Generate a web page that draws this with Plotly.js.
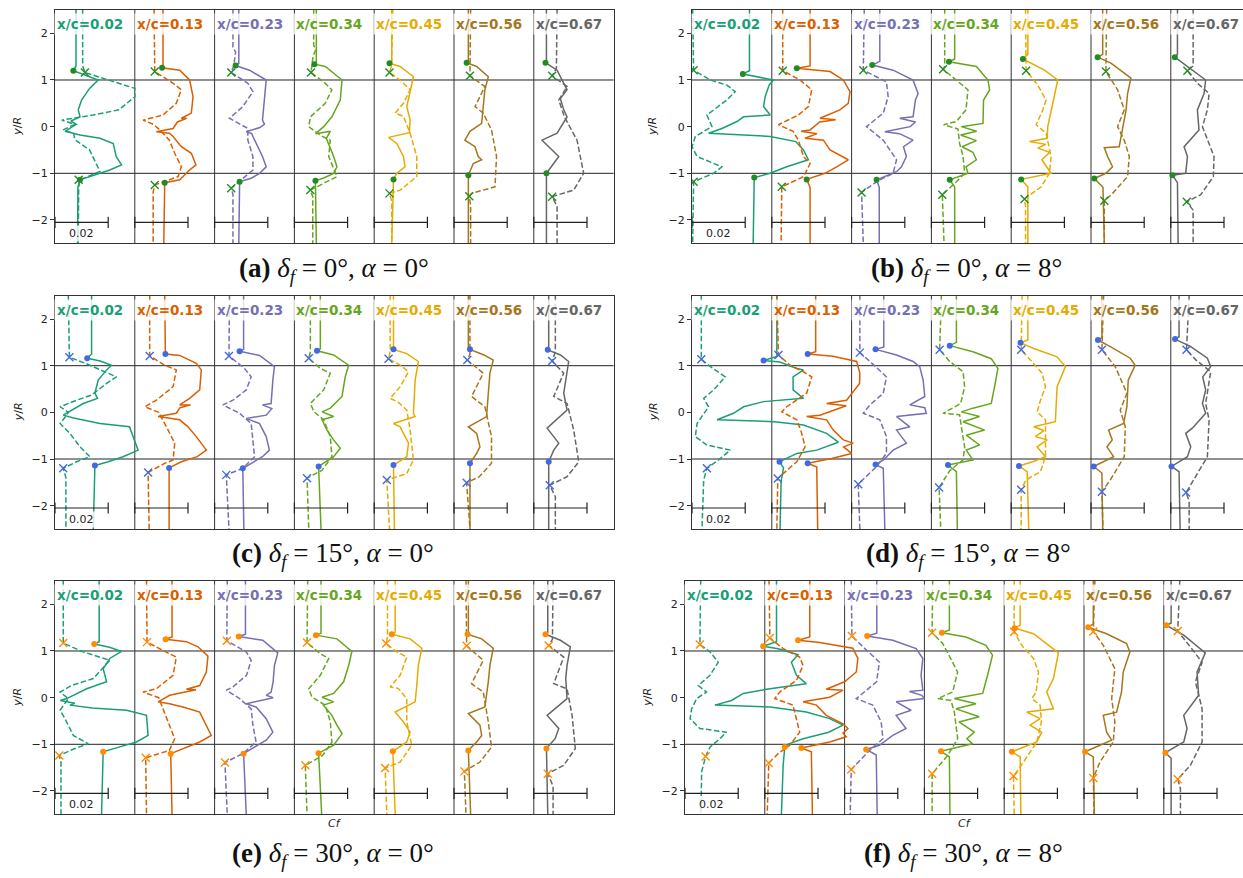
<!DOCTYPE html>
<html><head><meta charset="utf-8">
<script src="https://cdn.plot.ly/plotly-3.0.1.min.js"></script>
<style>html,body{margin:0;padding:0;background:#fff;}#chart{width:1243px;height:878px;}</style>
</head><body><div id="chart"></div>
<script>
// ---------------- DATA ----------------
// Chord stations and colours of each column
const STATIONS = ['0.02','0.13','0.23','0.34','0.45','0.56','0.67'];
const COLORS = ['#1b9e77','#d95f02','#7570b3','#66a61e','#e6ab02','#a6761d','#666666'];
const Y_TICKS = [-2,-1,0,1,2];
const SCALE_CF = 0.02;   // length of the reference bar (Cf units)
const COL_CF = 0.03;     // Cf width of one station column

// Each profile: flat list of (y/R, Cf*1000) pairs
const SOLID_A = [
 [2.5,7.9,1.3,7.9,1.2,6.9,1.0,16.25,0.82,13,0.57,10,0.36,8.75,0.21,9.4,0.12,6,0.05,8,-0.1,3.75,-0.18,9.4,-0.25,16.9,-0.36,21.9,-0.64,23,-0.82,25,-0.93,20.6,-1.0,16.9,-1.14,9.4,-1.3,8.6,-2.5,8.5],
 [2.5,10.6,1.3,10.6,1.26,10.25,1.21,16.9,1.0,20.6,0.64,21.9,0.29,21.25,0.18,17.5,0.18,19.5,0.1,16,-0.04,14.4,-0.11,8.1,-0.14,13,-0.21,14.4,-0.43,17.5,-0.57,21.25,-0.82,23,-0.93,20.6,-1.14,16.9,-1.2,11.25,-2.5,10.9],
 [2.5,9.1,1.35,9.1,1.31,7.9,1.21,13.1,1.0,19.4,0.57,18.75,0.14,18,0.05,18.75,-0.02,17,-0.11,11.9,-0.15,14,-0.21,14.4,-0.43,16.25,-0.64,18,-0.86,19.4,-1.0,16.9,-1.1,14,-1.18,9.4,-2.5,9.1],
 [2.5,8.25,1.4,8.25,1.34,7.5,1.29,11.6,1.0,17.9,0.57,17.25,0.21,14.1,0.0,11,-0.15,8,-0.1,13.5,-0.25,12,-0.64,14.75,-0.86,16,-1.0,14.75,-1.1,11,-1.16,7.9,-2.5,8.25],
 [2.5,6.6,1.4,6.6,1.36,5.75,1.29,9.75,1.07,14.75,0.71,13.5,0.43,12.25,0.14,13.5,-0.13,13.25,-0.23,5.4,-0.36,8.5,-0.64,11,-0.86,11.6,-1.0,8.5,-1.13,7.25,-2.5,6.6],
 [2.5,5.4,1.42,5.4,1.37,4.75,1.29,8.5,1.07,12.9,0.79,11.6,0.43,11,0.07,10.4,-0.1,6,-0.29,4.1,-0.43,7.9,-0.64,9.1,-0.71,10.4,-0.79,7.25,-1.04,5.4,-2.5,5.4],
 [2.5,4.75,1.42,4.75,1.37,4.4,1.21,8.75,0.79,12.5,0.6,10,0.36,11.25,0.21,12.5,-0.14,8.75,-0.29,3.1,-0.64,9.4,-0.79,7.5,-1.0,4.75,-2.5,4.75]
];
const DASH_A = [
 [2.5,10.4,1.3,10.4,1.16,11.25,0.82,30,0.64,30,0.36,24,0.25,14.4,0.21,10.6,0.14,2.5,0.05,7.5,-0.07,3,-0.15,7,-0.28,7.5,-0.5,13,-0.86,16,-0.96,16.9,-1.14,9.4,-1.3,8.9,-2.5,8.75],
 [2.5,7.25,1.25,7.25,1.18,7.5,0.93,14.4,0.79,17.5,0.5,15.6,0.25,10.6,0.14,3.1,0.05,7,-0.07,9.4,-0.29,13,-0.57,15,-0.86,17.5,-1.07,16.25,-1.25,7.5,-1.4,6.9,-2.5,6.9],
 [2.5,6.9,1.7,6.9,1.6,7.9,1.3,7.2,1.16,6.25,0.93,12.5,0.75,14.4,0.43,10.6,0.18,5.6,-0.04,12.5,-0.29,12.5,-0.64,14.4,-0.93,14.4,-1.18,9.4,-1.32,6.25,-1.45,6.9,-2.5,6.9],
 [2.5,7.25,1.75,7.25,1.65,8,1.5,7,1.16,6.25,0.96,11,0.79,14.1,0.5,11.6,0.21,6,0.0,5.4,-0.11,8,-0.21,10.5,-0.29,13.5,-0.64,12.9,-1.07,16,-1.18,12.25,-1.3,8,-1.36,6,-1.5,6.9,-2.5,6.9],
 [2.5,7,1.3,6.5,1.16,5.75,1.0,9.75,0.79,13.5,0.5,11,0.29,7.9,0.22,11,-0.14,13.5,-0.64,16,-1.07,16,-1.36,9.75,-1.43,5.75,-1.6,6.6,-2.5,6.6],
 [2.5,6.25,1.2,6.25,1.09,6,0.86,11.6,0.43,7.9,0.29,11,-0.07,14.1,-0.64,16,-1.29,15.4,-1.43,6.6,-1.49,5.75,-1.7,6.25,-2.5,6.25],
 [2.5,8.75,1.25,8.5,1.09,6.9,0.86,12.5,0.57,9.4,0.21,11.5,-0.29,16.25,-1.0,18.75,-1.36,15,-1.5,6.9,-1.71,8.75,-2.5,8.75]
];
const DOT_A = [[1.2,6.9,-1.14,9.4],[1.26,10.25,-1.2,11.25],[1.31,7.9,-1.18,9.4],[1.34,7.5,-1.16,7.9],[1.36,5.75,-1.13,7.25],[1.37,4.75,-1.04,5.4],[1.37,4.4,-1.0,4.75]];
const CROSS_A = [[1.16,11.25,-1.14,8.9],[1.18,7.5,-1.25,7.5],[1.16,6.25,-1.32,6.25],[1.16,6.25,-1.36,6],[1.16,5.75,-1.43,5.75],[1.09,6,-1.49,5.75],[1.09,6.9,-1.5,6.9]];

const SOLID_B = [
 [2.5,21.6,1.2,21.6,1.13,19.1,1.0,30.6,0.89,29,0.64,27.5,0.43,26.9,0.25,29.4,0.21,19.4,0.11,16.9,-0.04,11.25,-0.14,6.25,-0.21,29.4,-0.32,39,-0.5,41.9,-0.71,43.75,-0.86,35.6,-1.0,29.4,-1.09,23.4,-2.5,23],
 [2.5,14.4,1.3,14.4,1.25,9.4,1.18,21.9,1.0,26.9,0.75,29.4,0.5,28.75,0.36,25.6,0.18,18.1,0.15,24,0.1,18,-0.07,14.4,-0.1,11,-0.15,17,-0.25,12.5,-0.29,19.4,-0.5,21.9,-0.71,28.75,-0.86,24.4,-1.0,20,-1.13,13.1,-1.3,14.4,-2.5,14.4],
 [2.5,10.6,1.4,10.6,1.32,7.75,1.21,15.6,1.0,23.1,0.71,25,0.57,24,0.21,23.1,0.18,18.1,0.1,24,0.0,22,-0.11,12.5,-0.15,18,-0.29,23.1,-0.43,19.5,-0.64,20.6,-0.86,18.75,-0.96,17,-1.14,9.4,-1.3,10.4,-2.5,10.4],
 [2.5,8.75,1.45,8.75,1.39,6.6,1.29,16.9,1.0,21.25,0.79,21.9,0.57,19.6,0.07,19.4,0.0,11.25,-0.1,17,-0.18,11,-0.3,16.9,-0.43,11.5,-0.55,15.6,-0.71,16.9,-0.86,13,-1.0,13.75,-1.14,6.9,-1.29,8.75,-2.5,8.75],
 [2.5,6.25,1.55,6.25,1.45,4.4,1.36,7.5,1.21,12.5,1.0,17.5,0.57,16,0.0,13.75,-0.25,13.5,-0.32,6.9,-0.38,13,-0.46,10,-0.55,14.5,-0.71,11.5,-1.0,15,-1.07,9,-1.13,3.75,-1.29,6.25,-2.5,6.25],
 [2.5,4.4,1.55,4.4,1.49,2.5,1.36,7.5,1.04,15,0.71,13.75,0.36,13.2,0.0,11.9,-0.43,10.6,-0.45,5,-0.64,6.25,-0.86,8.1,-1.0,5.6,-1.11,1.25,-1.3,4.5,-2.5,5],
 [2.5,2.5,1.55,2.5,1.49,1.5,1.29,6.25,1.0,13.1,0.71,12.5,0.36,10,-0.07,10.6,-0.43,5,-0.64,6.25,-1.0,5.6,-1.04,0.6,-1.2,2.5,-2.5,2.75]
];
const DASH_B = [
 [2.5,0.25,1.21,0.6,1.0,6.9,0.89,13.1,0.75,16.25,0.57,13.1,0.25,5.6,0.0,7.5,-0.21,1.25,-0.43,0,-0.64,1.9,-0.86,11.25,-1.0,8.1,-1.18,0.6,-2.5,0.25],
 [2.5,4.1,1.2,4.1,1.0,10.6,0.79,15,0.43,13.75,0.25,10,0.04,2.5,-0.1,8,-0.29,10,-0.64,11.9,-0.79,14.4,-1.07,12,-1.29,3.75,-2.5,3.5],
 [2.5,4.75,1.21,4.4,0.96,13.1,0.64,13.75,0.29,11.9,0.0,5.6,-0.29,11.9,-0.5,14.4,-0.71,16.9,-1.0,15.6,-1.18,9.4,-1.41,3.75,-2.5,4.4],
 [2.5,5,1.3,5,1.23,4.4,1.0,9.4,0.79,13.75,0.36,13,0.11,9.4,0.04,4.6,-0.05,10,-0.36,10.6,-0.64,11.9,-1.0,12.5,-1.18,9.4,-1.46,4.1,-2.5,4.75],
 [2.5,5.4,1.2,5.6,0.89,10,0.57,13.1,0.36,11.9,0.04,9.4,-0.14,13.1,-0.64,15,-1.0,14.4,-1.29,11.25,-1.55,5,-1.7,5.4,-2.5,5.4],
 [2.5,5.9,1.18,5.6,0.79,10,0.36,12.5,0.0,10,-0.29,12.5,-0.64,14.4,-1.07,13.75,-1.43,8.1,-1.59,5,-2.5,5],
 [2.5,8.4,1.3,8.4,1.2,6.25,0.93,10,0.71,14.4,0.36,13.75,0.0,11.9,-0.64,16.25,-1.07,16,-1.46,11.25,-1.61,6,-1.79,8.4,-2.5,8.4]
];
const DOT_B = [[1.13,19.1,-1.09,23.4],[1.25,9.4,-1.13,13.1],[1.32,7.75,-1.14,9.4],[1.39,6.6,-1.14,6.9],[1.45,4.4,-1.13,3.75],[1.49,2.5,-1.11,1.25],[1.49,1.5,-1.04,0.6]];
const CROSS_B = [[1.21,0.6,-1.18,0.6],[1.2,4.1,-1.29,3.75],[1.21,4.4,-1.41,3.75],[1.23,4.4,-1.46,4.1],[1.2,5.6,-1.55,5],[1.18,5.6,-1.59,5],[1.2,6.25,-1.61,6]];

const SOLID_C = [
 [2.5,13.75,1.25,13.75,1.16,12.1,1.1,17,1.01,21.25,0.91,19.4,0.69,16.25,0.41,15,0.3,16,0.19,10.6,-0.06,3.1,-0.12,7,-0.24,16.9,-0.31,28,-0.81,31.25,-0.95,25.6,-1.06,20,-1.14,15,-2.5,14.4],
 [2.5,11.25,1.3,11.25,1.25,11.5,1.22,16.9,1.05,23.1,0.91,25,0.48,24.4,0.3,20.6,0.16,16.9,0.16,21,0.1,17,-0.02,15.6,-0.09,8.75,-0.16,16.9,-0.31,20,-0.52,23.1,-0.81,26.9,-0.95,23.5,-1.06,17.5,-1.19,12.9,-2.5,12.9],
 [2.5,10.9,1.35,10.9,1.31,9.4,1.22,16.9,0.98,22.5,0.69,21.9,0.19,21.25,0.16,18,0.08,21.5,-0.06,19.4,-0.13,11.9,-0.24,16.9,-0.52,19.4,-0.81,20.6,-0.95,18,-1.09,14,-1.2,10.6,-2.5,11],
 [2.5,9.75,1.36,9.75,1.32,8.5,1.23,14.75,1.01,20.4,0.76,19.1,0.34,17.9,0.09,13.5,0.01,10.4,-0.09,14.75,-0.16,10.4,-0.38,12.25,-0.59,14.75,-0.77,17.25,-0.95,14.75,-1.16,9.1,-2.5,10],
 [2.5,7.25,1.4,7.25,1.35,7.25,1.26,12.25,1.09,16.6,0.69,15.4,-0.02,14.75,-0.09,15.4,-0.24,7.25,-0.31,9.75,-0.66,12.9,-0.95,12.25,-1.13,7.25,-2.5,7.6],
 [2.5,5.4,1.4,5.4,1.35,6,1.23,11.25,1.12,14.75,0.84,13.5,0.41,12.9,-0.09,12.25,-0.31,5.4,-0.45,8.5,-0.74,9.75,-0.88,8.5,-1.09,6,-2.5,6],
 [2.5,5.6,1.4,5.6,1.34,5.25,1.23,10,1.09,13.1,0.69,11.9,0.41,11.25,0.05,12.5,-0.34,5,-0.66,9.4,-0.81,7.5,-1.06,5.6,-2.5,5.6]
];
const DASH_C = [
 [2.5,5,1.18,5.4,1.05,11.5,0.76,23.1,0.62,19.4,0.37,13.75,0.26,8.1,0.12,1.9,0.0,5,-0.09,4,-0.24,1.9,-0.45,5.6,-0.74,9.4,-0.95,13.1,-1.06,8.1,-1.2,3.1,-1.4,4.1,-2.5,4.1],
 [2.5,5.6,1.21,5.6,1.01,11.25,0.91,15.6,0.55,14.4,0.26,8.1,0.12,3.75,0.0,9,-0.31,11.9,-0.66,15,-1.02,14.4,-1.1,11,-1.29,5,-2.5,5.4],
 [2.5,5.6,1.21,5.4,0.94,11.25,0.76,13.75,0.48,11.9,0.26,6.9,0.16,3.1,-0.02,9.4,-0.24,13.75,-0.59,14.4,-0.95,15,-1.2,10.6,-1.34,4.4,-2.5,5.4],
 [2.5,6,1.3,6,1.16,5.4,0.94,9.75,0.84,13.5,0.48,11,0.19,6,0.01,7.4,-0.16,11,-0.52,13.5,-0.95,14.1,-1.24,10.4,-1.41,4.75,-2.5,5.4],
 [2.5,6,1.3,6,1.15,5.4,1.01,9.75,0.87,12.9,0.55,9.75,0.3,6,0.22,9,0.05,12.25,-0.38,13.5,-1.02,14.75,-1.31,12.25,-1.45,4.75,-2.5,5.75],
 [2.5,6,1.25,6,1.12,5,0.84,11,0.34,6.6,0.12,11.6,-0.52,14.1,-1.09,14.1,-1.38,9.5,-1.51,4.75,-2.5,6],
 [2.5,8.1,1.3,8.1,1.1,6.9,0.84,11.25,0.34,7.5,0.19,12.5,-0.38,15,-1.06,16.9,-1.38,12.5,-1.56,6,-1.81,8.1,-2.5,8.1]
];
const DOT_C = [[1.16,12.1,-1.14,15],[1.25,11.5,-1.19,12.9],[1.31,9.4,-1.2,10.6],[1.32,8.5,-1.16,9.1],[1.35,7.25,-1.13,7.25],[1.35,6,-1.09,6],[1.34,5.25,-1.06,5.6]];
const CROSS_C = [[1.18,5.4,-1.2,3.1],[1.21,5.6,-1.29,5],[1.21,5.4,-1.34,4.4],[1.16,5.4,-1.41,4.75],[1.15,5.4,-1.45,4.75],[1.12,5,-1.51,4.75],[1.1,6.9,-1.56,6]];

const SOLID_D = [
 [2.5,31.9,1.2,31.9,1.11,26.9,1.08,33,0.94,39.4,0.91,41.9,0.76,38,0.48,38,0.3,41.9,0.23,26.9,0.12,19.4,-0.02,15.6,-0.16,9.4,-0.2,31,-0.27,41.9,-0.45,50.6,-0.64,55,-0.81,46.9,-0.88,39.4,-1.02,34,-1.06,32.9,-1.19,34.4,-1.48,33.5,-2.5,33.1],
 [2.5,16.5,1.3,16.5,1.25,13.5,1.2,23,1.09,31.9,0.84,33.1,0.62,33,0.26,28.1,0.19,20.6,0.14,28,-0.06,18.1,-0.09,13.1,-0.16,20.6,-0.38,23.1,-0.59,26.9,-0.66,30.6,-0.74,27,-0.88,30,-0.99,22.5,-1.09,13.5,-1.17,16.9,-2.5,17.25],
 [2.5,12.1,1.4,12.1,1.35,9,1.23,16.9,1.09,23.1,0.98,25.6,0.69,26.9,0.34,27.5,0.16,21.9,0.1,27.5,-0.02,28.1,-0.09,16.9,-0.31,21.9,-0.38,16.9,-0.66,20.6,-0.81,15.6,-1.02,12,-1.12,9,-1.2,11.9,-2.5,12.5],
 [2.5,9.4,1.5,9.4,1.43,6.9,1.3,15.6,1.15,22.5,0.94,25,0.55,23.75,0.19,22.5,0.09,15.6,0.01,11.25,-0.09,18.1,-0.2,11.9,-0.38,20,-0.49,13.1,-0.7,18.1,-0.81,13.1,-1.02,15.6,-1.13,6.25,-1.27,9.4,-2.5,9.75],
 [2.5,6.25,1.55,6.25,1.49,3.5,1.37,8.5,1.19,17.25,0.98,20.4,0.55,17.25,-0.2,16.6,-0.31,8.5,-0.39,12.25,-0.52,9.1,-0.59,13.5,-0.74,9.75,-0.95,12.9,-1.06,8.1,-1.15,2.9,-1.27,6,-2.5,6.6],
 [2.5,4.1,1.6,4.1,1.55,2.6,1.41,7.25,1.16,14.75,1.01,16.6,0.69,14,0.12,13.5,-0.24,12.25,-0.38,6.6,-0.59,8,-0.74,6,-0.95,8.5,-1.16,1,-1.3,4.1,-2.5,4.4],
 [2.5,3.1,1.62,3.1,1.57,1.6,1.41,7.5,1.16,13.75,0.98,15,0.76,12,0.48,13.1,0.19,11.9,-0.02,13.1,-0.34,8.1,-0.45,5.6,-0.74,7.5,-0.95,6.25,-1.16,0.25,-1.27,3.1,-2.5,3.5]
];
const DASH_D = [
 [2.5,3.5,1.14,3.5,0.98,6.9,0.76,12.5,0.48,8.1,0.3,4.4,0.12,6.25,-0.24,1.9,-0.52,1.25,-0.7,5.6,-0.81,14.4,-1.02,10,-1.2,5.6,-1.45,4.4,-2.5,3.75],
 [2.5,1.9,1.23,2.5,1.01,6.9,0.87,11.9,0.76,15,0.41,13.1,0.12,5.6,0.01,3.75,-0.16,9.4,-0.45,11.25,-0.74,12.5,-1.06,9.4,-1.25,5.5,-1.42,2.25,-2.5,1.9],
 [2.5,3.1,1.28,3.1,1.09,6.9,0.76,13.1,0.41,11.9,0.16,6.9,-0.02,4.4,-0.16,10.6,-0.52,13.1,-0.88,13.1,-1.16,9.4,-1.54,2.5,-2.5,3.1],
 [2.5,3.75,1.34,3.1,1.09,6.9,0.87,11.9,0.55,12.5,0.19,11,-0.02,4.4,-0.05,10.6,-0.31,11.25,-0.74,12.5,-1.02,11.9,-1.25,6.9,-1.61,2.9,-2.5,3.5],
 [2.5,4.1,1.34,3.75,1.12,7.25,0.84,11.6,0.55,12.9,0.26,11,0.01,9.75,-0.16,12.9,-0.95,12.9,-1.27,11,-1.45,5.5,-1.66,3.75,-2.5,3.75],
 [2.5,4.75,1.34,4.1,0.98,9.1,0.41,13.5,0.05,11,-0.31,12.9,-0.95,12.5,-1.45,7.25,-1.7,4.1,-2.5,4.5],
 [2.5,6.9,1.34,5.9,1.12,9.5,0.87,15,0.19,13.1,-0.16,14.4,-0.95,13.75,-1.45,8.75,-1.72,5.75,-1.9,6.9,-2.5,6.9]
];
const DOT_D = [[1.11,26.9,-1.06,32.9],[1.25,13.5,-1.09,13.5],[1.35,9,-1.12,9],[1.43,6.9,-1.13,6.25],[1.49,3.5,-1.15,2.9],[1.55,2.6,-1.16,1],[1.57,1.6,-1.16,0.25]];
const CROSS_D = [[1.14,3.5,-1.2,5.6],[1.23,2.5,-1.42,2.25],[1.28,3.1,-1.54,2.5],[1.34,3.1,-1.61,2.9],[1.34,3.75,-1.66,3.75],[1.34,4.1,-1.7,4.1],[1.34,5.9,-1.72,5.75]];

const SOLID_E = [
 [2.5,16.6,1.2,16.6,1.15,14.75,1.08,20.5,0.99,25,0.84,20.6,0.62,18.1,0.34,19.4,0.19,11.9,-0.02,4.4,-0.06,2,-0.12,7.5,-0.16,5.6,-0.22,14,-0.27,26.9,-0.38,34.4,-0.81,35,-0.95,30.6,-1.06,24,-1.16,18.1,-2.5,17.5],
 [2.5,14,1.3,14,1.25,11.6,1.2,19.4,1.09,23.75,0.89,27.5,0.55,26.9,0.26,24.4,0.18,19.4,0.17,23,0.05,13.1,-0.09,8.75,-0.13,13,-0.2,18.1,-0.31,24.4,-0.59,26.9,-0.81,28.75,-0.95,24.4,-1.09,18.1,-1.2,13.5,-2.5,14],
 [2.5,11.6,1.36,11.6,1.31,9.1,1.23,18.1,0.96,23.75,0.69,22.5,0.34,22,0.12,21.25,0.05,19.4,0.0,22,-0.13,11.9,-0.2,15.6,-0.45,19.4,-0.74,21.9,-0.91,19.4,-1.09,14.4,-1.2,10.9,-2.5,11.9],
 [2.5,10,1.38,10,1.34,8.1,1.26,16,0.99,21.6,0.69,20.4,0.34,18.5,0.09,14.75,0.01,10.4,-0.09,14.75,-0.16,10.9,-0.38,14.1,-0.59,16,-0.77,17.9,-1.02,14.75,-1.19,9.1,-2.5,10.25],
 [2.5,7.9,1.4,7.9,1.36,6.6,1.26,13.5,1.06,17.9,0.69,16.6,0.26,16,-0.09,15.4,-0.31,7.9,-0.52,11,-0.74,13.5,-0.95,12.25,-1.15,7,-2.5,7.9],
 [2.5,5.4,1.4,5.4,1.36,5.1,1.26,10.4,1.06,14.75,0.69,13.5,0.34,12.9,-0.2,11.6,-0.34,5.4,-0.59,9.75,-0.81,10.4,-0.95,8.5,-1.13,5.4,-2.5,6.25],
 [2.5,5.25,1.4,5.25,1.36,4.4,1.23,10,1.09,13.75,0.69,12.5,0.41,12,-0.02,12.5,-0.38,5,-0.66,9.4,-0.88,8,-1.09,4.75,-2.5,5.25]
];
const DASH_E = [
 [2.5,3.1,1.17,3.1,0.98,10.6,0.8,20.6,0.41,14.4,0.26,6.25,0.12,1.9,-0.02,5,-0.27,1.9,-0.45,3.75,-0.81,6.9,-0.99,12.5,-1.1,7,-1.24,1.6,-1.4,2.25,-2.5,2.25],
 [2.5,4.4,1.19,4.6,1.01,10.6,0.87,15.6,0.48,14.4,0.19,8.1,0.12,3.1,0.0,9,-0.24,10.6,-0.52,12.5,-0.88,15,-1.13,13,-1.29,4.1,-2.5,4.4],
 [2.5,4.75,1.22,4.6,0.98,11.9,0.8,13.75,0.48,12,0.23,6.9,0.16,4.4,-0.02,9.4,-0.24,13.75,-0.59,14.4,-0.95,15.6,-1.2,10.6,-1.39,3.9,-2.5,4.75],
 [2.5,5,1.3,5,1.18,4.75,0.94,9.75,0.84,12.9,0.48,9.75,0.19,5.4,0.01,6.6,-0.16,11.6,-0.52,13.5,-0.95,14.1,-1.24,10.6,-1.45,4.1,-2.5,4.75],
 [2.5,5,1.3,5,1.16,4.5,0.98,8.5,0.87,12.25,0.48,9.75,0.23,6,0.2,9,-0.02,12.25,-0.52,12.25,-1.02,14.1,-1.38,9.75,-1.51,4.1,-2.5,4.75],
 [2.5,4.5,1.2,4.5,1.11,4.75,0.8,11,0.3,6.6,0.12,11,-0.52,12.9,-1.06,14.1,-1.38,9.75,-1.58,3.9,-2.5,4.5],
 [2.5,7.25,1.25,7,1.12,5.6,0.87,11.25,0.3,7.5,0.19,12.5,-0.38,14.4,-1.09,15.6,-1.45,11.25,-1.63,5.25,-1.9,7.25,-2.5,7.25]
];
const DOT_E = [[1.15,14.75,-1.16,18.1],[1.25,11.6,-1.2,13.5],[1.31,9.1,-1.2,10.9],[1.34,8.1,-1.19,9.1],[1.36,6.6,-1.15,7],[1.36,5.1,-1.13,5.4],[1.36,4.4,-1.09,4.75]];
const CROSS_E = [[1.17,3.1,-1.24,1.6],[1.19,4.6,-1.29,4.1],[1.22,4.6,-1.39,3.9],[1.18,4.75,-1.45,4.1],[1.16,4.5,-1.51,4.1],[1.11,4.75,-1.58,3.9],[1.12,5.6,-1.63,5.25]];

const SOLID_F = [
 [2.5,34.4,1.2,34.4,1.1,29.4,1.05,35,0.92,42.5,0.76,40,0.48,41.9,0.3,45.6,0.18,30.6,0.09,21.9,-0.06,17.5,-0.16,11.25,-0.2,32,-0.31,45.6,-0.45,54.4,-0.59,59.4,-0.74,54,-0.88,44.4,-0.99,39,-1.06,37.5,-1.45,36.9,-2.5,36.25],
 [2.5,16.9,1.3,16.9,1.23,12.5,1.18,20.6,1.06,33.1,0.84,35,0.55,34.4,0.34,30,0.18,23.1,0.16,29.4,0.01,24.4,-0.09,14.4,-0.16,19.4,-0.38,23.1,-0.56,29.4,-0.66,31.25,-0.76,29.4,-0.84,30.6,-0.95,24.4,-1.08,13.75,-1.16,17.5,-2.5,17.9],
 [2.5,12.1,1.38,12.1,1.32,8.5,1.23,18.1,1.05,26.9,0.84,29.4,0.48,28.75,0.16,29.4,0.13,24.4,0.05,29,-0.02,30,-0.09,19.4,-0.27,25,-0.38,19.4,-0.66,23.1,-0.81,18.1,-1.02,13.1,-1.11,8.1,-1.23,11.9,-2.5,12.25],
 [2.5,9.4,1.45,9.4,1.39,6.6,1.3,15.6,1.12,23.1,0.91,25.6,0.48,23.75,0.09,21.9,-0.02,11.25,-0.13,19.4,-0.24,11.9,-0.41,20.6,-0.52,13,-0.74,18.75,-0.88,16,-0.99,18.1,-1.15,6.25,-1.27,9.4,-2.5,9.6],
 [2.5,6,1.55,6,1.49,3.9,1.37,11,0.96,20.4,0.69,19.4,0.41,18.5,0.12,16,-0.24,18.5,-0.31,8.5,-0.45,13.5,-0.59,9.75,-0.74,14.1,-0.95,12.25,-1.16,2.9,-1.27,6,-2.5,6.25],
 [2.5,3.5,1.58,3.5,1.51,1.6,1.37,8.5,1.16,16,0.98,17.25,0.55,14.75,0.12,14.1,-0.31,12.25,-0.38,7.25,-0.74,8.5,-0.91,10.4,-1.16,0.4,-1.27,3.5,-2.5,3.9],
 [2.5,2.75,1.6,2.75,1.55,1,1.34,7.5,0.96,15.6,0.55,12.5,0.05,13.1,-0.38,7.5,-0.66,8.75,-0.95,7.5,-1.18,0.6,-1.3,2.75,-2.5,2.75]
];
const DASH_F = [
 [2.5,5.9,1.14,5.6,0.98,9.4,0.76,12.5,0.48,9.4,0.26,5,0.12,8.1,-0.02,4.4,-0.24,2.5,-0.45,1.9,-0.66,5.6,-0.74,15.6,-0.88,13.1,-1.06,9.4,-1.26,7.75,-1.59,6.25,-2.5,6],
 [2.5,1.6,1.28,1.9,1.05,6.9,0.87,13.1,0.69,14.4,0.37,11.9,0.12,5.6,-0.02,3.75,-0.16,10.6,-0.45,11.9,-0.74,13.1,-1.02,9.4,-1.2,5,-1.4,1.5,-2.5,0.9],
 [2.5,2.5,1.32,2.75,1.09,6.9,0.76,13.1,0.34,12,0.16,8.1,-0.02,4.4,-0.16,10.6,-0.52,13.75,-0.88,14.4,-1.13,9.4,-1.54,2.5,-2.5,2.1],
 [2.5,3.1,1.39,2.9,1.16,6.9,0.55,12.5,0.12,10.6,-0.02,5,-0.06,10,-0.31,11.25,-0.88,12.5,-1.24,8.75,-1.63,2.9,-2.5,2.9],
 [2.5,3.75,1.41,3.75,1.12,6.6,0.84,11,0.55,12.9,0.12,12,-0.02,10.4,-0.16,13.5,-0.52,14,-0.95,12.25,-1.38,7.25,-1.68,3.5,-2.5,3.75],
 [2.5,4.1,1.42,3.5,1.12,7.25,0.62,11.6,-0.02,10.4,-0.52,11.6,-0.95,11,-1.38,6,-1.72,3.5,-2.5,3.75],
 [2.5,6,1.43,5.25,1.12,9.5,0.76,14.4,0.34,11.9,-0.24,14.4,-0.95,14.4,-1.45,10,-1.75,5.25,-1.95,6.25,-2.5,6.25]
];
const DOT_F = [[1.1,29.4,-1.06,37.5],[1.23,12.5,-1.08,13.75],[1.32,8.5,-1.11,8.1],[1.39,6.6,-1.15,6.25],[1.49,3.9,-1.16,2.9],[1.51,1.6,-1.16,0.4],[1.55,1,-1.18,0.6]];
const CROSS_F = [[1.14,5.6,-1.26,7.75],[1.28,1.9,-1.4,1.5],[1.32,2.75,-1.54,2.5],[1.39,2.9,-1.63,2.9],[1.41,3.75,-1.68,3.5],[1.42,3.5,-1.72,3.5],[1.43,5.25,-1.75,5.25]];

const CAPTIONS = [
 '<b>(a)</b> <i>δ<sub>f</sub></i> = 0°, <i>α</i> = 0°',
 '<b>(b)</b> <i>δ<sub>f</sub></i> = 0°, <i>α</i> = 8°',
 '<b>(c)</b> <i>δ<sub>f</sub></i> = 15°, <i>α</i> = 0°',
 '<b>(d)</b> <i>δ<sub>f</sub></i> = 15°, <i>α</i> = 8°',
 '<b>(e)</b> <i>δ<sub>f</sub></i> = 30°, <i>α</i> = 0°',
 '<b>(f)</b> <i>δ<sub>f</sub></i> = 30°, <i>α</i> = 8°'
];
const MARK_COLORS = ['#228b22','#228b22','#4169e1','#4169e1','#ff8c00','#ff8c00'];

// ---------------- LAYOUT (pixels) ----------------
const W = 1243, H = 878;
const COL_PX = 79.8, PANEL_H = 233.3;
const PANELS = [
 {left:55,  top:10,    solid:SOLID_A, dash:DASH_A, dot:DOT_A, cross:CROSS_A, capX:334, capY:270, ylabX:18,  cf:false},
 {left:692, top:10,    solid:SOLID_B, dash:DASH_B, dot:DOT_B, cross:CROSS_B, capX:966, capY:270, ylabX:653, cf:false},
 {left:55,  top:295.7, solid:SOLID_C, dash:DASH_C, dot:DOT_C, cross:CROSS_C, capX:333, capY:555, ylabX:18,  cf:false},
 {left:692, top:295.7, solid:SOLID_D, dash:DASH_D, dot:DOT_D, cross:CROSS_D, capX:968, capY:555, ylabX:653, cf:false},
 {left:55,  top:581,   solid:SOLID_E, dash:DASH_E, dot:DOT_E, cross:CROSS_E, capX:333, capY:855, ylabX:18,  cf:true},
 {left:685, top:581,   solid:SOLID_F, dash:DASH_F, dot:DOT_F, cross:CROSS_F, capX:963, capY:855, ylabX:648, cf:true}
];

const traces = [];
const layout = {width:W, height:H, margin:{l:0,r:0,t:0,b:0}, paper_bgcolor:'#fff', plot_bgcolor:'#fff',
  showlegend:false, annotations:[], shapes:[], font:{family:'DejaVu Sans', color:'#222'}};

PANELS.forEach((p, k) => {
  const s = k === 0 ? '' : String(k+1);
  const xa = 'x'+s, ya = 'y'+s;
  const fullRight = p.left + 7*COL_PX;
  const right = Math.min(W, fullRight);
  const clipped = fullRight > W + 0.5;
  const xmax = COL_CF * (right - p.left) / COL_PX;
  const bottom = p.top + PANEL_H;
  layout['xaxis'+s] = {domain:[p.left/W, right/W], range:[0, xmax], anchor:ya, showgrid:false, zeroline:false,
    showticklabels:false, ticks:'', showline:true, mirror:true, linecolor:'#333', linewidth:1, fixedrange:true};
  layout['yaxis'+s] = {domain:[1-bottom/H, 1-p.top/H], range:[-2.5,2.5], anchor:xa, tickvals:Y_TICKS,
    ticktext:Y_TICKS.map(v => v < 0 ? '\u2212'+Math.abs(v) : String(v)),
    ticks:'outside', ticklen:4, tickwidth:1, tickcolor:'#333', showgrid:false, zeroline:false,
    showline:true, mirror:!clipped, linecolor:'#333', linewidth:1, fixedrange:true,
    tickfont:{family:'DejaVu Sans', size:11, color:'#222'}};

  // reference lines y/R = ±1 and station separators
  [1,-1].forEach(v => layout.shapes.push({type:'line', layer:'below', xref:xa+' domain', x0:0, x1:1, yref:ya, y0:v, y1:v, line:{color:'#222', width:1}}));
  for (let i = 1; i < 7; i++) {
    layout.shapes.push({type:'line', layer:'below', xref:xa, x0:i*COL_CF, x1:i*COL_CF, yref:ya+' domain', y0:0, y1:1, line:{color:'#333', width:1}});
  }

  const dotsX=[], dotsY=[], crossX=[], crossY=[], barX=[], barY=[];
  for (let i = 0; i < 7; i++) {
    const off = i*COL_CF;
    const prof = (arr, dash) => {
      const xs=[], ys=[];
      for (let j = 0; j < arr.length; j += 2) { ys.push(arr[j]); xs.push(off + arr[j+1]/1000); }
      traces.push({type:'scatter', mode:'lines', x:xs, y:ys, xaxis:xa, yaxis:ya, hoverinfo:'skip',
        line:{color:COLORS[i], width:1.5, dash: dash ? '5.5px,2.5px' : 'solid'}});
    };
    prof(p.dash[i], true);
    prof(p.solid[i], false);
    const d = p.dot[i], c = p.cross[i];
    dotsY.push(d[0], d[2]); dotsX.push(off + d[1]/1000, off + d[3]/1000);
    crossY.push(c[0], c[2]); crossX.push(off + c[1]/1000, off + c[3]/1000);
    barX.push(off, off + SCALE_CF, null); barY.push(-2.05, -2.05, null);

    layout.annotations.push({xref:xa, yref:ya, x:off, y:2.2, xanchor:'left', yanchor:'middle', xshift:-1,
      text:'<b>x/c='+STATIONS[i]+'</b>', showarrow:false, bgcolor:'rgba(255,255,255,0.8)', borderpad:2,
      font:{family:'DejaVu Sans', size:13.5, color:COLORS[i]}});
  }
  traces.push({type:'scatter', mode:'lines+markers', x:barX, y:barY, xaxis:xa, yaxis:ya, hoverinfo:'skip',
    line:{color:'#222', width:1.2}, marker:{symbol:'line-ns-open', size:8, color:'#222', line:{color:'#222', width:1.2}}});
  traces.push({type:'scatter', mode:'markers', x:dotsX, y:dotsY, xaxis:xa, yaxis:ya, hoverinfo:'skip',
    marker:{symbol:'circle', size:6, color:MARK_COLORS[k]}});
  traces.push({type:'scatter', mode:'markers', x:crossX, y:crossY, xaxis:xa, yaxis:ya, hoverinfo:'skip',
    marker:{symbol:'x-thin-open', size:8, color:MARK_COLORS[k], line:{color:MARK_COLORS[k], width:1.4}}});

  layout.annotations.push({xref:xa, yref:ya, x:SCALE_CF/2, y:-2.3, xanchor:'center', yanchor:'middle', text:String(SCALE_CF), showarrow:false,
    bgcolor:'rgba(255,255,255,0.8)', borderpad:1, font:{family:'DejaVu Sans', size:11, color:'#222'}});
  layout.annotations.push({xref:'paper', yref:'paper', x:p.ylabX/W, y:1-(p.top+PANEL_H/2)/H, xanchor:'center', yanchor:'middle', textangle:-90,
    text:'<i>y</i>/<i>R</i>', showarrow:false, font:{family:'DejaVu Sans', size:11, color:'#222'}});
  layout.annotations.push({xref:'paper', yref:'paper', x:p.capX/W, y:1-p.capY/H, xanchor:'center', yanchor:'middle', text:CAPTIONS[k], showarrow:false,
    font:{family:'Liberation Serif', size:27, color:'#111'}});
  if (p.cf) {
    layout.annotations.push({xref:'paper', yref:'paper', x:(p.left+280)/W, y:1-(bottom+9)/H, xanchor:'center', yanchor:'middle', text:'<i>Cf</i>', showarrow:false,
      font:{family:'DejaVu Sans', size:11, color:'#222'}});
  }
});

Plotly.newPlot('chart', traces, layout, {staticPlot:true, displayModeBar:false});
</script>
</body></html>
